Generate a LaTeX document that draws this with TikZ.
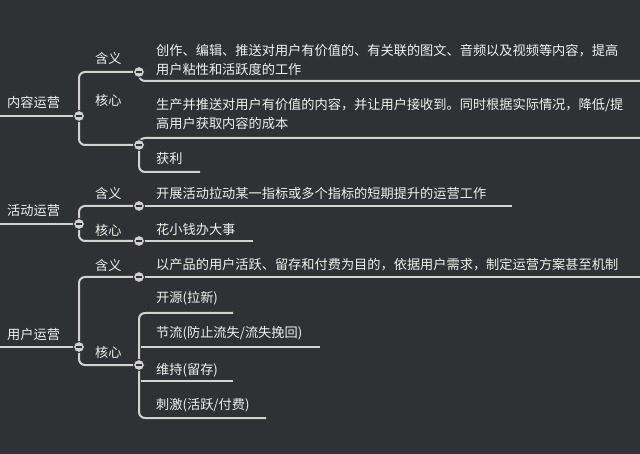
\documentclass[tikz,border=0pt]{standalone}
\usepackage{fontspec}
\setmainfont{Noto Sans CJK SC}
\usetikzlibrary{positioning,calc}
\definecolor{bgcol}{HTML}{2F3134}
\definecolor{linecol}{HTML}{D2D2D2}
\definecolor{textcol}{HTML}{F0F0F0}
\tikzset{
  branch/.style = {draw=linecol, line width=2pt, rounded corners=6pt},
  label/.style = {anchor=west, inner sep=0pt, text=textcol, font=\fontsize{13.2}{19}\selectfont, align=left},
  toggle/.style = {circle, fill=linecol, draw=bgcol, line width=1pt, minimum size=11pt, inner sep=0pt,
    path picture={\draw[bgcol, line width=1.3pt] ($(path picture bounding box.center)+(-3pt,0)$) -- ++(6pt,0);}}
}
\begin{document}
\begin{tikzpicture}[x=1pt, y=-1pt]
  \fill[bgcol] (0,0) rectangle (640,454);
  \useasboundingbox (0,0) rectangle (640,454);

  % 内容运营
  \node[label] (r1) at (7,102) {内容运营};
  \coordinate (r1c) at (79,116);
  \coordinate (r1a) at (139,72);
  \coordinate (r1b) at (139,145);
  \node[label] (r1an) at (95,58) {含义};
  \node[label] (r1bn) at (95,100) {核心};
  \node[label] (r1at) at (156,60) {创作、编辑、推送对用户有价值的、有关联的图文、音频以及视频等内容，提高\\用户粘性和活跃度的工作};
  \node[label] (r1bt) at (156,114) {生产并推送对用户有价值的内容，并让用户接收到。同时根据实际情况，降低/提\\高用户获取内容的成本};
  \node[label] (r1ct) at (156,158) {获利};
  \draw[branch] (0,116) -- (r1c);
  \draw[branch] (r1a) -| (r1c) |- (r1b);
  \draw[branch] (r1a) |- (640,81);
  \draw[branch] (640,138) -| (r1b) |- (200,172);

  % 活动运营
  \node[label] (r2) at (7,211) {活动运营};
  \coordinate (r2c) at (79,224);
  \coordinate (r2a) at (139,206);
  \coordinate (r2b) at (139,241);
  \node[label] (r2an) at (95,193) {含义};
  \node[label] (r2bn) at (95,230) {核心};
  \node[label] (r2at) at (156,193) {开展活动拉动某一指标或多个指标的短期提升的运营工作};
  \node[label] (r2bt) at (156,229) {花小钱办大事};
  \draw[branch] (0,224) -- (r2c);
  \draw[branch] (r2a) -| (r2c) |- (r2b);
  \draw[branch] (r2a) -- (512,206);
  \draw[branch] (r2b) -- (253,241);

  % 用户运营
  \node[label] (r3) at (7,334) {用户运营};
  \coordinate (r3c) at (79,347);
  \coordinate (r3a) at (139,277);
  \coordinate (r3b) at (139,365);
  \node[label] (r3an) at (95,265) {含义};
  \node[label] (r3bn) at (95,352) {核心};
  \node[label] (r3at) at (156,265) {以产品的用户活跃、留存和付费为目的，依据用户需求，制定运营方案甚至机制};
  \node[label] (r3b1) at (156,298) {开源(拉新)};
  \node[label] (r3b2) at (156,333) {节流(防止流失/流失挽回)};
  \node[label] (r3b3) at (156,370) {维持(留存)};
  \node[label] (r3b4) at (156,405) {刺激(活跃/付费)};
  \draw[branch] (0,347) -- (r3c);
  \draw[branch] (r3a) -| (r3c) |- (r3b);
  \draw[branch] (r3a) -- (640,277);
  \draw[branch] (233,313) -| (r3b) |- (266,418);
  \draw[branch] (141,347) -- (320,347);
  \draw[branch] (141,381) -- (233,381);

  % toggles
  \foreach \t in {r1c,r1a,r1b,r2c,r2a,r2b,r3c,r3a,r3b}
    \node[toggle] at (\t) {};
\end{tikzpicture}
\end{document}
